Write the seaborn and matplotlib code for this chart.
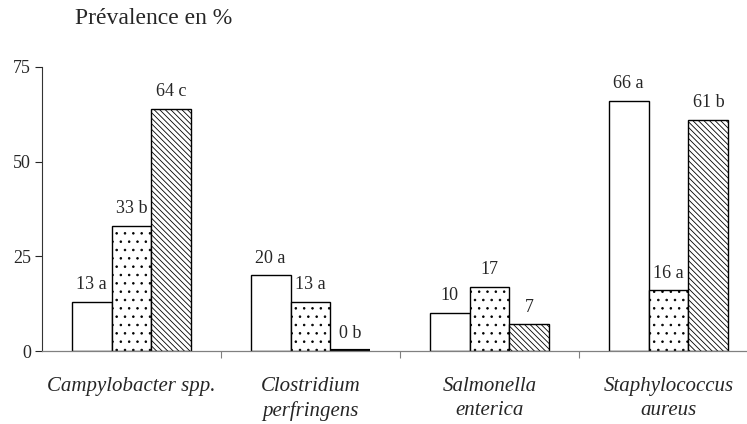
import matplotlib
matplotlib.use('Agg')
import matplotlib.pyplot as plt
import seaborn as sns
import pandas as pd

# data
categories = ['Campylobacter spp.', 'Clostridium\nperfringens', 'Salmonella\nenterica', 'Staphylococcus\naureus']
groups = ['A', 'B', 'C']
values_a = [13, 20, 10, 66]
values_b = [33, 13, 17, 16]
values_c = [64, 0, 7, 61]
labels_a = ['13 a', '20 a', '10', '66 a']
labels_b = ['33 b', '13 a', '17', '16 a']
labels_c = ['64 c', '0 b', '7', '61 b']

rows = []
for g, vals in zip(groups, [values_a, values_b, values_c]):
    for cat, v in zip(categories, vals):
        rows.append({'cat': cat, 'grp': g, 'val': v})
df = pd.DataFrame(rows)

sns.set_style('white')
plt.rcParams['font.family'] = ['Liberation Serif', 'DejaVu Serif']
plt.rcParams['hatch.linewidth'] = 0.6

fig = plt.figure(figsize=(7.47, 4.24), dpi=100)
ax = fig.add_axes([42 / 747, 1 - 351 / 424, 716 / 747, (351 - 67) / 424])

sns.barplot(data=df, x='cat', y='val', hue='grp', order=categories, hue_order=groups,
            palette=['white', 'white', 'white'], edgecolor='black', linewidth=1.0,
            width=0.67, ax=ax, legend=False, errorbar=None)

hatches = ['', '..', '\\\\\\\\\\\\']
all_labels = [labels_a, labels_b, labels_c]
for cont, h, labs in zip(ax.containers, hatches, all_labels):
    for bar, lab in zip(cont, labs):
        bar.set_hatch(h)
        if bar.get_height() == 0:
            bar.set_linewidth(3)
        ax.text(bar.get_x() + bar.get_width() / 2, bar.get_height() + 2.3, lab,
                ha='center', va='bottom', fontsize=13)

ax.set_xlim(-0.5, 3.5)
ax.set_ylim(0, 75)
ax.set_yticks([0, 25, 50, 75])
ax.tick_params(axis='y', direction='out', length=5, width=0.8, labelsize=13, pad=3, left=True)
ax.set_xticks([0.5, 1.5, 2.5], minor=True)
ax.tick_params(axis='x', which='minor', direction='out', length=5, width=0.8, bottom=True,
               color='#808080')
ax.tick_params(axis='x', which='major', length=0, pad=19)
ax.set_xticklabels(categories, fontsize=15, style='italic', linespacing=1.3)
ax.set_xlabel('')
ax.set_ylabel('')

for s in ['top', 'right']:
    ax.spines[s].set_visible(False)
ax.spines['left'].set_color('#333333')
ax.spines['bottom'].set_color('#808080')
ax.spines['left'].set_linewidth(0.8)
ax.spines['bottom'].set_linewidth(0.9)

fig.text(75 / 747, 1 - 19 / 424, 'Prévalence en %', fontsize=17, ha='left', va='center')

fig.savefig('out.png', dpi=100)
